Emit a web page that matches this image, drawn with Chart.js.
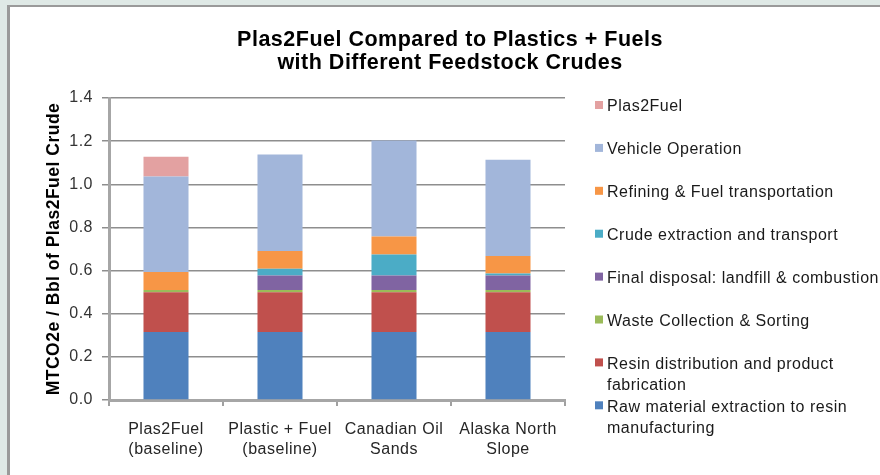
<!DOCTYPE html>
<html>
<head>
<meta charset="utf-8">
<title>Plas2Fuel Compared to Plastics + Fuels</title>
<script src="https://cdn.jsdelivr.net/npm/chart.js@4"></script>
<style>
  html, body { margin: 0; padding: 0; }
  body { width: 880px; height: 475px; background: #dfe9e6; overflow: hidden; position: relative; }
  #panel {
    position: absolute; left: 7px; top: 5px; right: -10px; bottom: -10px;
    background: #fff; border-left: 3px solid #9a9a9a; border-top: 2px solid #9a9a9a;
  }
  #wrap { position: absolute; left: 0; top: 0; width: 880px; height: 475px; }
</style>
</head>
<body>
<div id="panel"></div>
<div id="wrap"><canvas id="chart" width="880" height="475"></canvas></div>
<script>
  'use strict';

  // Categories (two-line tick labels)
  const categories = [
    ['Plas2Fuel', '(baseline)'],
    ['Plastic + Fuel', '(baseline)'],
    ['Canadian Oil', 'Sands'],
    ['Alaska North', 'Slope'],
  ];

  // Series, bottom of the stack first (MTCO2e / Bbl)
  const rawMaterial = [0.315, 0.315, 0.315, 0.315];
  const resinDistribution = [0.185, 0.185, 0.185, 0.185];
  const wasteCollection = [0.010, 0.010, 0.010, 0.010];
  const finalDisposal = [0.000, 0.067, 0.067, 0.067];
  const crudeExtraction = [0.000, 0.032, 0.097, 0.009];
  const refining = [0.083, 0.082, 0.084, 0.081];
  const vehicleOperation = [0.443, 0.447, 0.445, 0.447];
  const plas2Fuel = [0.092, 0.000, 0.000, 0.000];

  // Legend names (line breaks as in the original legend)
  const seriesNames = [
    ['Raw material extraction to resin', 'manufacturing'],
    ['Resin distribution and product', 'fabrication'],
    ['Waste Collection & Sorting'],
    ['Final disposal: landfill & combustion'],
    ['Crude extraction and transport'],
    ['Refining & Fuel transportation'],
    ['Vehicle Operation'],
    ['Plas2Fuel'],
  ];
  const seriesValues = [rawMaterial, resinDistribution, wasteCollection, finalDisposal,
    crudeExtraction, refining, vehicleOperation, plas2Fuel];
  const seriesColours = ['#4f81bd', '#c0504d', '#9bbb59', '#8064a2',
    '#4bacc6', '#f79646', '#a2b6da', '#e3a1a1'];

  const yTicks = [0, 0.2, 0.4, 0.6, 0.8, 1.0, 1.2, 1.4];

  const FONT = '"Liberation Sans", Arial, sans-serif';

  // Excel renders text a touch wider than canvas does
  const spacing = {
    id: 'spacing',
    beforeUpdate(chart) { chart.ctx.letterSpacing = '0.5px'; },
    beforeDraw(chart) { chart.ctx.letterSpacing = '0.5px'; },
  };

  // Legend on the right, top series first, spread over the plot height
  const sideLegend = {
    id: 'sideLegend',
    afterDraw(chart) {
      const { ctx, chartArea } = chart;
      const x = chartArea.right + 30;
      const step = 42.9;
      const lineH = 21;
      ctx.save();
      ctx.letterSpacing = '0.5px';
      ctx.font = '16px ' + FONT;
      ctx.textBaseline = 'middle';
      ctx.textAlign = 'left';
      const items = chart.data.datasets.slice().reverse();
      items.forEach((ds, i) => {
        const y = chartArea.top + 9 + i * step;
        ctx.fillStyle = ds.backgroundColor;
        ctx.fillRect(x, y - 6, 8, 8);
        ctx.fillStyle = '#1a1a1a';
        ds.lines.forEach((line, j) => ctx.fillText(line, x + 12, y + j * lineH));
      });
      ctx.restore();
    },
  };

  new Chart(document.getElementById('chart').getContext('2d'), {
    type: 'bar',
    data: {
      labels: categories,
      datasets: seriesValues.map((values, i) => ({
        label: seriesNames[i].join(' '),
        lines: seriesNames[i],
        data: values,
        backgroundColor: seriesColours[i],
        borderWidth: 0,
        barPercentage: 0.395,
        categoryPercentage: 1,
      })),
    },
    options: {
      responsive: false,
      animation: false,
      layout: { padding: { top: 18, left: 20, right: 0, bottom: 0 } },
      plugins: {
        legend: { display: false },
        tooltip: { enabled: false },
        title: {
          display: true,
          text: ['Plas2Fuel Compared to Plastics + Fuels', 'with Different Feedstock Crudes'],
          color: '#000',
          font: { family: FONT, size: 21.5, weight: 'bold', lineHeight: 1.07 },
          padding: { top: 11, bottom: 23 },
        },
      },
      scales: {
        x: {
          stacked: true,
          grid: { display: true, drawOnChartArea: false, offset: true, tickLength: 6, color: '#a0a0a0', lineWidth: 2 },
          border: { display: true, color: '#a6a6a6', width: 3 },
          ticks: { color: '#262626', padding: 14, font: { family: FONT, size: 16, lineHeight: 1.25 }, maxRotation: 0 },
          afterFit(s) { s.height = 75; },
        },
        y: {
          stacked: true,
          min: 0,
          max: 1.4,
          afterBuildTicks(s) { s.ticks = yTicks.map(v => ({ value: v })); },
          grid: { color: '#8e8e8e', lineWidth: 1.5, tickLength: 7 },
          border: { display: true, color: '#a6a6a6', width: 3 },
          ticks: {
            color: '#333',
            padding: 9,
            font: { family: FONT, size: 16 },
            callback: v => v.toFixed(1),
          },
          title: {
            display: true,
            text: 'MTCO2e / Bbl of Plas2Fuel Crude',
            color: '#000',
            font: { family: FONT, size: 17.5, weight: 'bold' },
            padding: { top: 24, bottom: 0 },
          },
          afterFit(s) { s.width = 89; },
        },
        yRight: {
          position: 'right',
          display: true,
          grid: { display: false },
          border: { display: false },
          ticks: { display: false },
          afterFit(s) { s.width = 315; },
        },
      },
    },
    plugins: [spacing, sideLegend],
  });
</script>
</body>
</html>
